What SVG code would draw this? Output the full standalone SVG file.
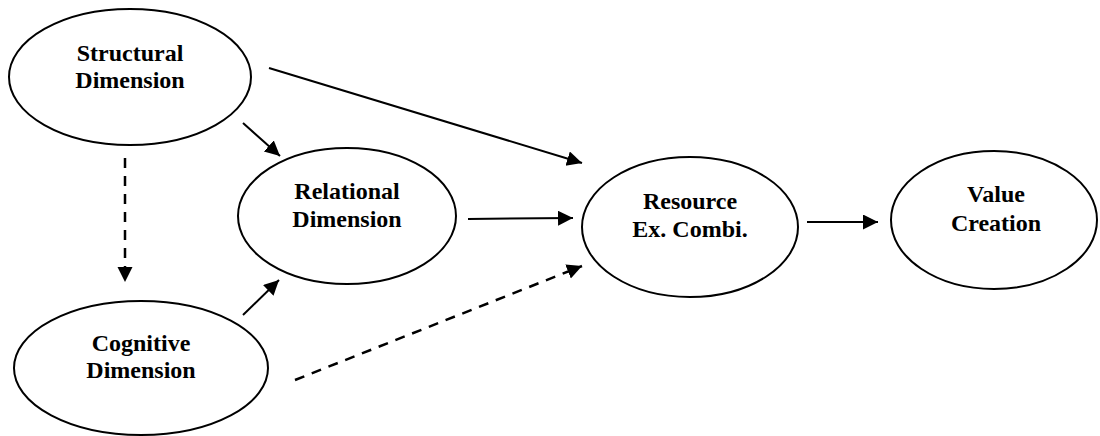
<svg xmlns="http://www.w3.org/2000/svg" width="1100" height="436" viewBox="0 0 1100 436">
<style>
.node ellipse{fill:#fff;stroke:#000;stroke-width:2}
.node text{font-family:"Liberation Serif","Times New Roman",serif;font-weight:bold;font-size:24px;text-anchor:middle;fill:#000}
.edges line{stroke:#000;stroke-width:2;marker-end:url(#ah)}
.edges line.dash{stroke-width:2.5;stroke-dasharray:10 8}
</style>
<defs>
<marker id="ah" markerUnits="userSpaceOnUse" markerWidth="16" markerHeight="16" refX="15" refY="7.5" orient="auto">
<path d="M0,0 L15,7.5 L0,15 z" fill="#000"/>
</marker>
</defs>
<rect width="1100" height="436" fill="#fff"/>
<g id="structural" class="node">
<ellipse cx="130" cy="77" rx="121" ry="68"/>
<text x="130" y="61">Structural</text>
<text x="130" y="88">Dimension</text>
</g>
<g id="relational" class="node">
<ellipse cx="347" cy="216" rx="109" ry="68"/>
<text x="347" y="199">Relational</text>
<text x="347" y="227">Dimension</text>
</g>
<g id="cognitive" class="node">
<ellipse cx="141" cy="368" rx="127" ry="67"/>
<text x="141" y="351">Cognitive</text>
<text x="141" y="378">Dimension</text>
</g>
<g id="resource" class="node">
<ellipse cx="690" cy="227" rx="108" ry="70"/>
<text x="690" y="209">Resource</text>
<text x="690" y="237">Ex. Combi.</text>
</g>
<g id="value" class="node">
<ellipse cx="994" cy="220" rx="103" ry="69"/>
<text x="996" y="202">Value</text>
<text x="996" y="231">Creation</text>
</g>
<g id="connectors" class="edges">
<line x1="269" y1="68" x2="582" y2="163"/>
<line x1="243" y1="123" x2="280" y2="156"/>
<line class="dash" x1="125" y1="158" x2="125" y2="282"/>
<line x1="243" y1="315" x2="279" y2="280"/>
<line class="dash" x1="295" y1="380" x2="582" y2="266"/>
<line x1="468" y1="219" x2="573" y2="218"/>
<line x1="807" y1="222" x2="878" y2="222"/>
</g>
</svg>
